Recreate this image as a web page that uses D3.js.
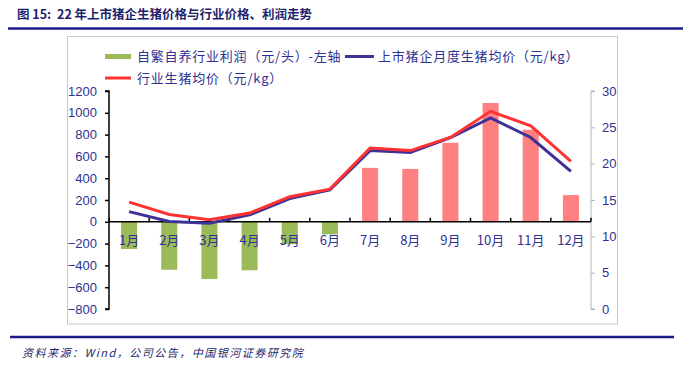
<!DOCTYPE html>
<html lang="zh">
<head>
    <meta charset="UTF-8">
    <title>22年上市猪企生猪价格与行业价格、利润走势</title>
    <script src="https://d3js.org/d3.v7.min.js"></script>
    <style>
        body { margin: 0; background: #fff; }
        text { font-family: Arial, 'Liberation Sans', 'Noto Sans CJK SC', sans-serif; fill: #2e3192; }
        .cjk { font-family: 'Noto Sans CJK SC', sans-serif; }
        .axis text { font-size: 13px; fill: #2e3192; }
    </style>
</head>
<body>
<script>

    const months = ['1月', '2月', '3月', '4月', '5月', '6月', '7月', '8月', '9月', '10月', '11月', '12月'];
    // 自繁自养行业利润（元/头）
    const profit = [-250, -440, -525, -445, -205, -115, 495, 485, 725, 1090, 845, 245];
    // 上市猪企月度生猪均价（元/kg）
    const listedPrice = [13.4, 12.05, 11.8, 12.95, 15.2, 16.4, 21.8, 21.55, 23.6, 26.3, 23.6, 18.95];
    // 行业生猪均价（元/kg）
    const industryPrice = [14.7, 13.0, 12.3, 13.2, 15.45, 16.5, 22.15, 21.8, 23.6, 27.2, 25.2, 20.3];
    const leftTicks = [-800, -600, -400, -200, 0, 200, 400, 600, 800, 1000, 1200];
    const rightTicks = [0, 5, 10, 15, 20, 25, 30];

    const W = 689, H = 367;
    const plot = {left: 109, right: 591, top: 91, bottom: 309};

    const svg = d3.select('body').append('svg')
        .attr('width', W)
        .attr('height', H);

    // title
    svg.append('text')
        .attr('class', 'cjk')
        .attr('x', 17).attr('y', 19)
        .style('font-size', '12.5px').style('font-weight', 'bold').style('fill', '#1f1f6e')
        .text('图 15:');
    svg.append('text')
        .attr('class', 'cjk')
        .attr('x', 57).attr('y', 19)
        .style('font-size', '12.5px').style('font-weight', 'bold').style('fill', '#1f1f6e')
        .text('22 年上市猪企生猪价格与行业价格、利润走势');

    svg.append('line')
        .attr('x1', 8).attr('x2', 683).attr('y1', 28.5).attr('y2', 28.5)
        .style('stroke', '#1a1a8c').style('stroke-width', 2.5);

    // frame
    svg.append('rect')
        .attr('x', 67.5).attr('y', 36.5).attr('width', 550).attr('height', 287.5)
        .style('fill', 'none').style('stroke', '#c8c8c8');

    // scales
    const x = d3.scaleBand().domain(months).range([plot.left, plot.right]);
    const yL = d3.scaleLinear().domain([-800, 1200]).range([plot.bottom, plot.top]);
    const yR = d3.scaleLinear().domain([0, 30]).range([plot.bottom, plot.top]);
    const barW = x.bandwidth() * 0.4;

    // bars
    svg.append('g').selectAll('rect')
        .data(profit)
        .enter().append('rect')
        .attr('x', (d, i) => x(months[i]) + (x.bandwidth() - barW) / 2)
        .attr('width', barW)
        .attr('y', d => yL(Math.max(0, d)))
        .attr('height', d => Math.abs(yL(d) - yL(0)))
        .style('fill', d => d < 0 ? '#9bbb59' : '#ff8080');

    // left axis
    svg.append('g')
        .attr('class', 'axis')
        .attr('transform', 'translate(' + plot.left + ',0)')
        .call(d3.axisLeft(yL).tickValues(leftTicks).tickSize(4).tickPadding(8).tickFormat(d3.format('d')))
        .call(g => g.selectAll('line, path').style('stroke', '#000').style('stroke-width', 1.5))
        .call(g => g.select('.domain').attr('d', 'M-4,' + plot.top + 'H0V' + plot.bottom + 'H-4'));

    // right axis
    svg.append('g')
        .attr('class', 'axis')
        .attr('transform', 'translate(' + plot.right + ',0)')
        .call(d3.axisRight(yR).tickValues(rightTicks).tickSize(4).tickPadding(7))
        .call(g => g.selectAll('line, path').style('stroke', '#b4b4b4'))
        .call(g => g.select('.domain').attr('d', 'M4,' + plot.top + 'H0V' + plot.bottom + 'H4'));

    // category axis at zero
    const y0 = yL(0);
    const xAxis = svg.append('g');
    xAxis.append('line')
        .attr('x1', plot.left).attr('x2', plot.right).attr('y1', y0).attr('y2', y0)
        .style('stroke', '#000').style('stroke-width', 1.5);
    xAxis.selectAll('.tk')
        .data(months.concat(['end']))
        .enter().append('line')
        .attr('x1', (d, i) => i < months.length ? x(d) : plot.right)
        .attr('x2', (d, i) => i < months.length ? x(d) : plot.right)
        .attr('y1', y0 - 4).attr('y2', y0)
        .style('stroke', '#000').style('stroke-width', 1.5);
    xAxis.selectAll('text')
        .data(months)
        .enter().append('text')
        .attr('class', 'cjk')
        .attr('x', d => x(d) + x.bandwidth() / 2)
        .attr('y', y0 + 23)
        .attr('text-anchor', 'middle')
        .style('font-size', '13px')
        .text(d => d);

    // lines
    const line = d3.line()
        .x((d, i) => x(months[i]) + x.bandwidth() / 2)
        .y(d => yR(d));

    svg.append('path')
        .datum(listedPrice)
        .attr('d', line)
        .style('fill', 'none').style('stroke', '#3f3196').style('stroke-width', 3);

    svg.append('path')
        .datum(industryPrice)
        .attr('d', line)
        .style('fill', 'none').style('stroke', '#ff3333').style('stroke-width', 3);

    // legend
    const legend = svg.append('g').attr('class', 'cjk');
    legend.append('rect')
        .attr('x', 105).attr('y', 54).attr('width', 26).attr('height', 5)
        .style('fill', '#9bbb59');
    legend.append('text')
        .attr('class', 'cjk')
        .attr('x', 137).attr('y', 61)
        .style('font-size', '13px').style('letter-spacing', '0.8px')
        .text('自繁自养行业利润（元/头）-左轴');
    legend.append('line')
        .attr('x1', 345).attr('x2', 374).attr('y1', 56.5).attr('y2', 56.5)
        .style('stroke', '#3f3196').style('stroke-width', 3);
    legend.append('text')
        .attr('class', 'cjk')
        .attr('x', 378).attr('y', 61)
        .style('font-size', '13px').style('letter-spacing', '0.8px')
        .text('上市猪企月度生猪均价（元/kg）');
    legend.append('line')
        .attr('x1', 105).attr('x2', 131).attr('y1', 78).attr('y2', 78)
        .style('stroke', '#ff3333').style('stroke-width', 3);
    legend.append('text')
        .attr('class', 'cjk')
        .attr('x', 137).attr('y', 83)
        .style('font-size', '13px').style('letter-spacing', '0.8px')
        .text('行业生猪均价（元/kg）');

    // footer
    svg.append('line')
        .attr('x1', 10).attr('x2', 674).attr('y1', 337).attr('y2', 337)
        .style('stroke', '#1a1a8c').style('stroke-width', 2.5);
    svg.append('text')
        .attr('class', 'cjk')
        .attr('x', 22).attr('y', 357)
        .style('font-size', '11px').style('font-style', 'italic').style('letter-spacing', '1.5px').style('fill', '#1f1f6e')
        .text('资料来源：Wind，公司公告，中国银河证券研究院');

</script>
</body>
</html>
